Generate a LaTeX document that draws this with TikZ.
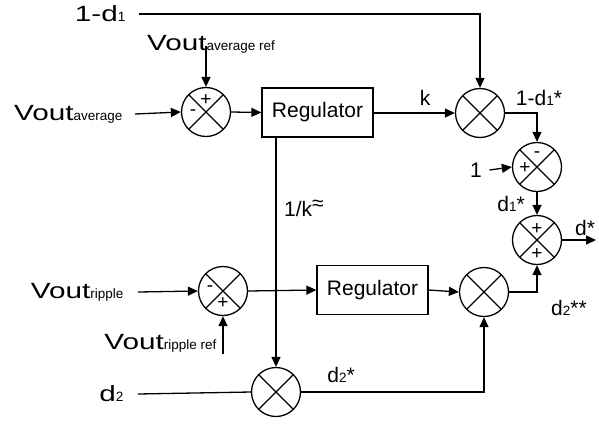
\documentclass[tikz,border=0pt]{standalone}
\usepackage{fontspec}
\setmainfont{Liberation Sans}
\usetikzlibrary{positioning, arrows.meta, calc}

\newcommand{\subtxt}[1]{{\fontsize{13.5}{16}\selectfont #1}}
\newcommand{\bigtxt}[1]{\scalebox{1.35}[1]{\fontsize{22}{24}\selectfont #1}}

\begin{document}
\begin{tikzpicture}[
  x=1pt, y=-1pt,
  >={Triangle[length=10pt,width=9pt]},
  line width=1.3pt,
  font=\fontsize{21}{24}\selectfont,
  junc/.style={circle, draw, minimum size=49pt, inner sep=0pt,
    path picture={\draw[line width=1.2pt]
      (path picture bounding box.north west) -- (path picture bounding box.south east)
      (path picture bounding box.north east) -- (path picture bounding box.south west);}},
  regbox/.style={draw, minimum width=111pt, minimum height=49pt, inner sep=0pt},
  sgn/.style={font=\fontsize{19}{20}\selectfont, inner sep=0pt},
  lbl/.style={inner sep=0pt},
]
\useasboundingbox (0,0) rectangle (599,424);

% --- summing and multiplying junctions ---
\node[junc] (s1) at (206,112) {};
\node[junc] (m1) at (480,113) {};
\node[junc] (s2) at (537,167) {};
\node[junc] (s3) at (537,240) {};
\node[junc] (s4) at (223,291) {};
\node[junc] (m2) at (484,292) {};
\node[junc] (m3) at (276,392) {};

% --- signs ---
\node[sgn] at ($(s1)+(0,-12)$) {+};
\node[sgn] at ($(s1)+(-13,1)$) {-};
\node[sgn] at ($(s2)+(0,-12)$) {-};
\node[sgn] at ($(s2)+(-12,1)$) {+};
\node[sgn] at ($(s3)+(0,-11)$) {+};
\node[sgn] at ($(s3)+(0,14)$) {+};
\node[sgn] at ($(s4)+(-13,-2)$) {-};
\node[sgn] at ($(s4)+(0,12)$) {+};

% --- regulators ---
\node[regbox] (reg1) at (317.5,112.5) {Regulator};
\node[regbox] (reg2) at (372.5,290) {Regulator};

% --- input labels ---
\node[lbl, anchor=east] (d1in) at (126,14) {\bigtxt{1-d}\subtxt{1}};
\node[lbl] (vavgref) at (211,44) {\bigtxt{Vout}\subtxt{average ref}};
\node[lbl, anchor=east] (vavg) at (123,114) {\bigtxt{Vout}\subtxt{average}};
\node[lbl] (one) at (476,170) {1};
\node[lbl, anchor=east] (vrip) at (124,292) {\bigtxt{Vout}\subtxt{ripple}};
\node[lbl, anchor=east] (vripref) at (217,343) {\bigtxt{Vout}\subtxt{ripple ref}};
\node[lbl, anchor=east] (d2in) at (124,394) {\bigtxt{d}\subtxt{2}};
\coordinate (rref) at (223,354);
\coordinate (dout) at (596,240);

% --- signal labels ---
\node[lbl] (klbl) at (425,98) {k};
\node[lbl] (dstar1) at (539,98) {1-d\subtxt{1}*};
\node[lbl] (invk) at (304,208) {1/k\raisebox{6pt}{≈}};
\node[lbl] (d1s) at (511,204) {d\subtxt{1}*};
\node[lbl] (dstar) at (585,228) {d*};
\node[lbl] (d2ss) at (569,308) {d\subtxt{2}**};
\node[lbl] (d2s) at (341,375) {d\subtxt{2}*};

% --- upper loop ---
\draw[->] ([xshift=13pt]d1in.east) -| (m1.north);
\draw[->] (s1.north |- vavgref.south) ++(0,-8) -- (s1.north);
\draw[->] ([xshift=12pt]vavg.east) -- (s1.west);
\draw[->] (s1.east) -- (reg1.west);
\draw[->] (reg1.east |- m1.west) -- (m1.west);
\draw[->] (m1.east) -| (s2.north);
\draw[->] ([xshift=7pt]one.east) -- (s2.west);
\draw[->] (s2.south) -- (s3.north);
\draw[->] (s3.east) -- (dout);

% --- lower loop ---
\draw[->] ([xshift=14pt]vrip.east) -- (s4.west);
\draw[->] (rref) -- (s4.south);
\draw[->] (s4.east) -- (reg2.west);
\draw[->] (reg2.east) -- (m2.west);
\draw[->] (m2.east) -| (s3.south);
\draw[->] (m3.north |- reg1.south) -- (m3.north);
\draw ([xshift=14pt]d2in.east) -- (m3.west);
\draw[->] (m3.east) -| (m2.south);

\end{tikzpicture}
\end{document}
